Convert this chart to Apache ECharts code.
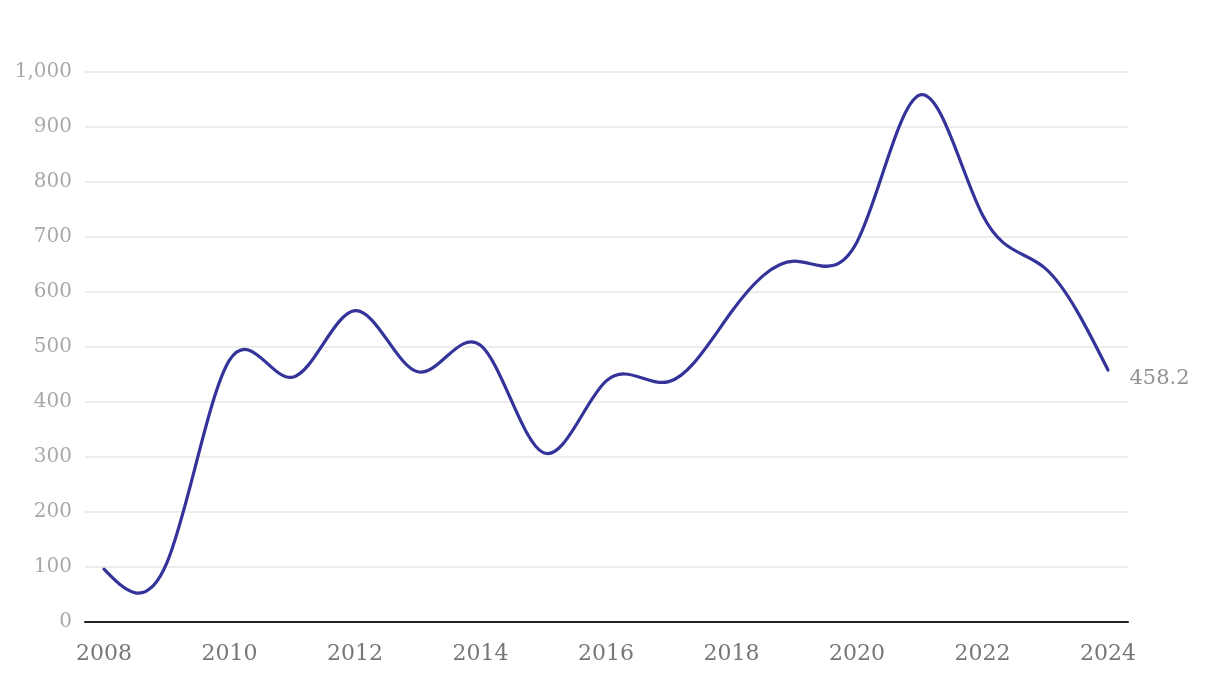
<!DOCTYPE html>
<html>
<head>
<meta charset="utf-8">
<script src="https://cdn.jsdelivr.net/npm/echarts@6/dist/echarts.min.js"></script>
<style>
  html, body { margin: 0; padding: 0; background: #ffffff; }
  #chart { width: 1220px; height: 676px; }
</style>
</head>
<body>
<div id="chart"></div>
<script>
// Yearly values
const years = [2008, 2009, 2010, 2011, 2012, 2013, 2014, 2015, 2016,
               2017, 2018, 2019, 2020, 2021, 2022, 2023, 2024];
const values = [96, 107, 476, 445, 566, 455, 503, 308, 438,
                437, 564, 656, 691, 958, 740, 643, 458.2];
const xTickLabels = [2008, 2010, 2012, 2014, 2016, 2018, 2020, 2022, 2024];
const yTickValues = [0, 100, 200, 300, 400, 500, 600, 700, 800, 900, 1000];

const seriesData = years.map((y, i) => [y, values[i]]);
const lastPoint = [[years[years.length - 1], values[values.length - 1]]];
const FONT = '"DejaVu Serif", "Liberation Serif", serif';
const LINE_COLOR = '#333399';

// Natural cubic spline control points (same scheme as a "natural" curve)
function naturalControls(x) {
  const n = x.length - 1;
  const a = new Array(n), b = new Array(n), r = new Array(n);
  let m;
  a[0] = 0; b[0] = 2; r[0] = x[0] + 2 * x[1];
  for (let i = 1; i < n - 1; ++i) { a[i] = 1; b[i] = 4; r[i] = 4 * x[i] + 2 * x[i + 1]; }
  a[n - 1] = 2; b[n - 1] = 7; r[n - 1] = 8 * x[n - 1] + x[n];
  for (let i = 1; i < n; ++i) { m = a[i] / b[i - 1]; b[i] -= m; r[i] -= m * r[i - 1]; }
  a[n - 1] = r[n - 1] / b[n - 1];
  for (let i = n - 2; i >= 0; --i) a[i] = (r[i] - a[i + 1]) / b[i];
  b[n - 1] = (x[n] + a[n - 1]) / 2;
  for (let i = 0; i < n - 1; ++i) b[i] = 2 * x[i + 1] - a[i + 1];
  return [a, b];
}

function renderCurve(params, api) {
  if (params.dataIndex !== 0) return null;
  const pts = seriesData.map(d => api.coord(d));
  const xs = pts.map(p => p[0]);
  const ys = pts.map(p => p[1]);
  const cx = naturalControls(xs);
  const cy = naturalControls(ys);
  let d = 'M' + xs[0] + ',' + ys[0];
  for (let i = 1; i < xs.length; i++) {
    d += ' C' + cx[0][i - 1] + ',' + cy[0][i - 1] + ' ' + cx[1][i - 1] + ',' + cy[1][i - 1] + ' ' + xs[i] + ',' + ys[i];
  }
  return {
    type: 'path',
    silent: true,
    shape: { pathData: d },
    style: { stroke: LINE_COLOR, lineWidth: 3.2, fill: 'none', lineCap: 'round', lineJoin: 'round' }
  };
}

const chart = echarts.init(document.getElementById('chart'), null, { renderer: 'canvas' });
chart.setOption({
  animation: false,
  backgroundColor: '#ffffff',
  grid: { left: 85, right: 92, top: 72, bottom: 54, containLabel: false },
  xAxis: {
    type: 'value',
    min: 2008 - 19 / 62.75,
    max: 2024 + 20 / 62.75,
    axisLine: { show: true, onZero: false, lineStyle: { color: '#222222', width: 2 } },
    axisTick: { show: false },
    splitLine: { show: false },
    axisLabel: {
      customValues: xTickLabels,
      formatter: v => String(Math.round(v)),
      color: '#777777',
      fontFamily: FONT,
      fontSize: 22,
      margin: 21
    }
  },
  yAxis: {
    type: 'value',
    min: 0,
    max: 1000,
    interval: 100,
    axisLine: { show: false },
    axisTick: { show: false },
    splitLine: { show: true, lineStyle: { color: '#e6e6e6', width: 1.5 } },
    axisLabel: {
      customValues: yTickValues,
      formatter: v => v.toLocaleString('en-US'),
      color: '#a8a8a8',
      fontFamily: FONT,
      fontSize: 20,
      margin: 13
    }
  },
  series: [
    {
      type: 'custom',
      data: seriesData,
      encode: { x: 0, y: 1 },
      renderItem: renderCurve,
      silent: true,
      z: 3
    },
    {
      type: 'scatter',
      data: lastPoint,
      symbolSize: 1,
      itemStyle: { color: 'rgba(0,0,0,0)' },
      silent: true,
      label: {
        show: true,
        position: 'right',
        distance: 21,
        offset: [0, 9],
        formatter: p => String(p.value[1]),
        color: '#777777',
        fontFamily: FONT,
        fontSize: 21
      },
      z: 4
    }
  ]
});
</script>
</body>
</html>
